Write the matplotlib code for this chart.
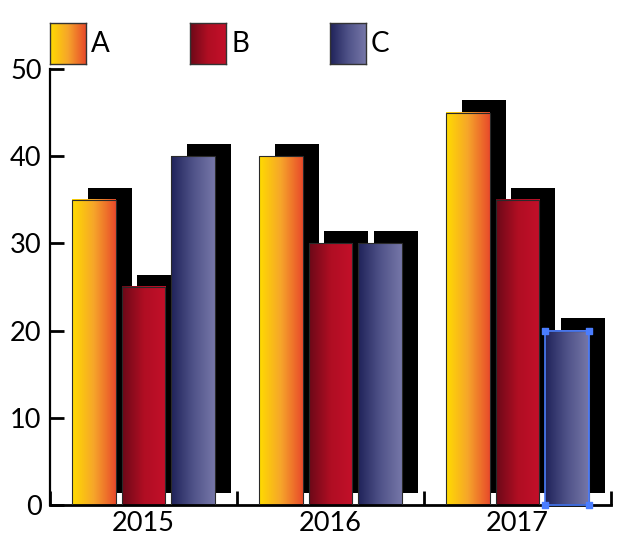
import numpy as np
import matplotlib.pyplot as plt
from matplotlib.colors import LinearSegmentedColormap

years = ["2015", "2016", "2017"]
series = ["A", "B", "C"]
values = {
    "A": [35, 40, 45],
    "B": [25, 30, 35],
    "C": [40, 30, 20],
}
yticks = [0, 10, 20, 30, 40, 50]

gradients = {
    "A": ["#FFDC00", "#F6A52A", "#E84A2B"],
    "B": ["#6C0918", "#B00E23", "#C3102A"],
    "C": ["#1F2259", "#4F5288", "#7677A8"],
}

plt.rcParams["font.family"] = ["Lato", "DejaVu Sans"]

fig = plt.figure(figsize=(6.35, 5.38), dpi=100)
ax = fig.add_axes([50 / 635, 33 / 538, 561 / 635, 436 / 538])

width = 0.235
step = 0.265
shadow_dx = 0.085
shadow_dy = 1.4
ramp = np.linspace(0, 1, 256).reshape(1, -1)

centers = np.arange(len(years)) + 0.5
for i, name in enumerate(series):
    xs = centers + (i - 1) * step
    cmap = LinearSegmentedColormap.from_list(name, gradients[name])
    ax.bar(xs + shadow_dx, values[name], width=width, bottom=shadow_dy,
           color="black", zorder=1)
    bars = ax.bar(xs, values[name], width=width, facecolor="none",
                  edgecolor="#2a2a2a", linewidth=0.8, zorder=3)
    for b in bars:
        x0, w, h = b.get_x(), b.get_width(), b.get_height()
        ax.imshow(ramp, cmap=cmap, aspect="auto", extent=(x0, x0 + w, 0, h),
                  zorder=2, interpolation="bilinear")

# selected bar outline (C, 2017)
sel = ax.patches[-1]
sx, sw, sh = sel.get_x(), sel.get_width(), sel.get_height()
ax.plot([sx, sx + sw, sx + sw, sx, sx], [0, 0, sh, sh, 0],
        color="#4A7DFF", linewidth=1.2, zorder=4, clip_on=False)
ax.scatter([sx, sx + sw, sx, sx + sw], [0, 0, sh, sh], marker="s", s=22,
           color="#4A7DFF", zorder=5, clip_on=False)

ax.set_xlim(0, 3)
ax.set_ylim(0, 50)
ax.set_yticks(yticks)
ax.set_xticks([0, 1, 2, 3])
ax.set_xticklabels([])
ax.set_xticks(centers, minor=True)
ax.set_xticklabels(years, minor=True)
ax.tick_params(axis="x", which="major", direction="in", length=10, width=2)
ax.tick_params(axis="x", which="minor", length=0, pad=4, labelsize=19.5)
ax.tick_params(axis="y", direction="in", length=10, width=2, pad=6,
               labelsize=19.5)
for s in ["top", "right"]:
    ax.spines[s].set_visible(False)
ax.spines["left"].set_linewidth(1.6)
ax.spines["bottom"].set_linewidth(2)

# legend
for i, name in enumerate(series):
    left = 50 + i * 140
    lax = fig.add_axes([left / 635, (538 - 64) / 538, 36 / 635, 41 / 538])
    cmap = LinearSegmentedColormap.from_list(name + "l", gradients[name])
    lax.imshow(ramp, cmap=cmap, aspect="auto", interpolation="bilinear")
    lax.set_xticks([])
    lax.set_yticks([])
    for sp in lax.spines.values():
        sp.set_color("#333333")
        sp.set_linewidth(1)
    fig.text((left + 41) / 635, (538 - 44) / 538, name, fontsize=20,
             va="center", ha="left")

fig.savefig("out.png", dpi=100)
